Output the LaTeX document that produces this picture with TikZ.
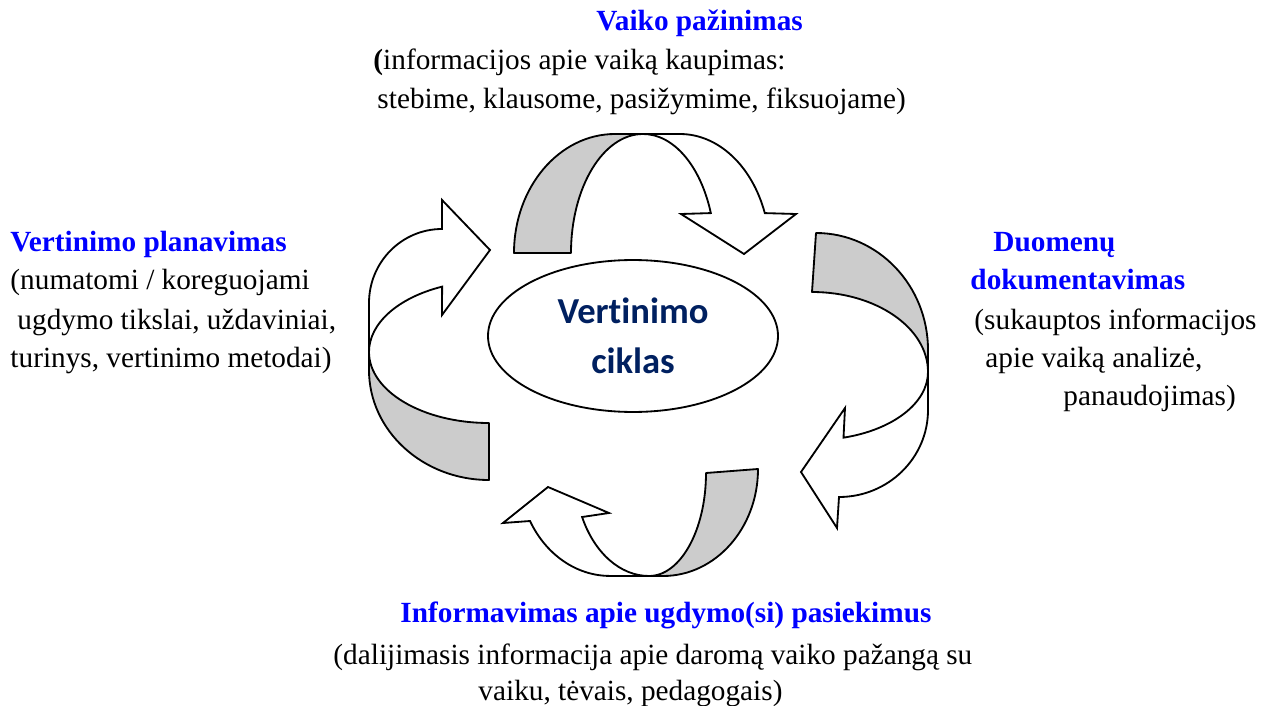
\documentclass[tikz,border=0pt]{standalone}
\usepackage{fontspec}
\setmainfont{Liberation Serif}
\newfontfamily\calib[Ligatures=NoCommon]{Carlito}
\usetikzlibrary{shapes.geometric}
\definecolor{hblue}{rgb}{0,0,1}
\definecolor{navy}{HTML}{002060}
\definecolor{backgray}{HTML}{CCCCCC}
\begin{document}
\begin{tikzpicture}[x=0.41pt,y=-0.41pt,
  back/.style={fill=backgray,draw=black,line width=0.75pt,line join=round},
  front/.style={fill=white,draw=black,line width=0.75pt,line join=miter},
  txt/.style={anchor=base west,inner sep=0pt,font=\fontsize{12}{15.8}\selectfont},
  head/.style={txt,font=\fontsize{12}{15.8}\selectfont\bfseries,text=hblue}]
\useasboundingbox (0,0) rectangle (1264,706);

% central ellipse
\node[ellipse,draw=black,line width=0.75pt,minimum width=118.9pt,minimum height=62.3pt,inner sep=0pt,
  align=center,text=navy,font=\calib\fontsize{15}{20.5}\selectfont\bfseries] (c) at (633,336) {Vertinimo\\ciklas};

% top arrow
\path[back] (514,253) arc[start angle=180,end angle=270,x radius=101,y radius=119]
  -- (643,134) arc[start angle=270,end angle=180,x radius=72,y radius=119] -- cycle;
\path[front] (643,134) arc[start angle=270,end angle=340.4,x radius=72,y radius=119]
  -- (681,214) -- (744,254) -- (796,214) -- (764.8,213.1)
  arc[start angle=340.4,end angle=270,x radius=90,y radius=119] -- cycle;

% right arrow
\path[back] (816,233) arc[start angle=270,end angle=360,x radius=112,y radius=117]
  -- (928,372) arc[start angle=0,end angle=-90,x radius=116,y radius=80] -- cycle;
\path[front] (928,372) arc[start angle=0,end angle=75,x radius=114,y radius=68]
  -- (845,408) -- (801,472) -- (837,528) -- (839,497)
  arc[start angle=90,end angle=0,x radius=89,y radius=87] -- cycle;

% bottom arrow
\path[back] (758,469) arc[start angle=0,end angle=90,x radius=95,y radius=107]
  -- (649,576) arc[start angle=90,end angle=0,x radius=57,y radius=103] -- cycle;
\path[front] (649,576) arc[start angle=90,end angle=154.7,x radius=74,y radius=103]
  -- (609,513) -- (548,487) -- (503,523) -- (530,521)
  arc[start angle=151.2,end angle=90,x radius=91.3,y radius=106] -- cycle;

% left arrow
\path[back] (489,480) arc[start angle=90,end angle=180,x radius=120,y radius=110]
  -- (369,352) arc[start angle=180,end angle=90,x radius=120,y radius=71] -- cycle;
\path[front] (369,352) arc[start angle=180,end angle=247,x radius=120,y radius=71]
  -- (442,315) -- (490,250) -- (442,200) -- (442,229)
  arc[start angle=270,end angle=180,x radius=73,y radius=74] -- cycle;

% top text
\node[head] (ta) at (596,31) {Vaiko pažinimas};
\node[txt] (tb) at (373,70) {\textbf{(}informacijos apie vaiką kaupimas:};
\node[txt] (tc) at (377,109) {stebime, klausome, pasižymime, fiksuojame)};

% left text
\node[head] (la) at (10,252) {Vertinimo planavimas};
\node[txt] (lb) at (10,290) {(numatomi / koreguojami};
\node[txt] (lc) at (17,329) {ugdymo tikslai, uždaviniai,};
\node[txt] (ld) at (10,367) {turinys, vertinimo metodai)};

% right text
\node[head] (ra) at (993,252) {Duomenų};
\node[head] (rb) at (970,290) {dokumentavimas};
\node[txt] (rc) at (974,329) {(sukauptos informacijos};
\node[txt] (rd) at (985,367) {apie vaiką analizė,};
\node[txt] (re) at (1063,405) {panaudojimas)};

% bottom text
\node[head] (ba) at (400,622) {Informavimas apie ugdymo(si) pasiekimus};
\node[txt] (bb) at (333,664) {(dalijimasis informacija apie daromą vaiko pažangą su};
\node[txt] (bc) at (478,700) {vaiku, tėvais, pedagogais)};
\end{tikzpicture}
\end{document}
